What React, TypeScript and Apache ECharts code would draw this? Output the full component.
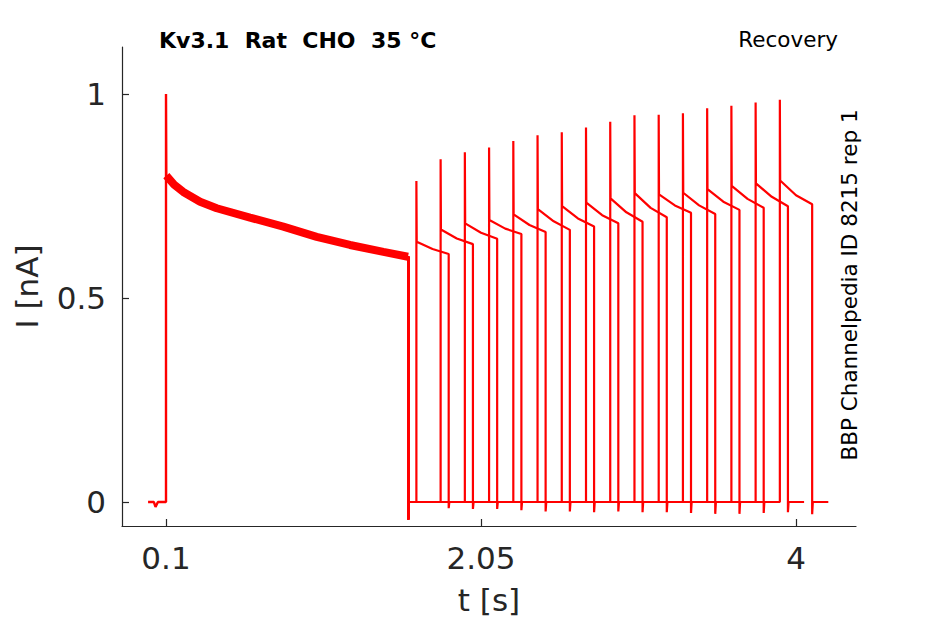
import React, { useEffect, useRef } from "react";
import * as echarts from "echarts";

// ---- data ----
const xTickValues = [0.1, 2.05, 4];
const xTickLabels = ["0.1", "2.05", "4"];
const yTickValues = [0, 0.5, 1];
const yTickLabels = ["0", "0.5", "1"];

// baseline before the prepulse and the onset spike
const preBaselineT = [-0.011, 0.025, 0.035, 0.05, 0.1, 0.1, 0.102];
const preBaselineI = [0, 0, -0.012, 0, 0, 1.0, 0.8];

// prepulse decay (dense band of overlaid sweeps)
const prepulseT = [0.102, 0.15, 0.207, 0.311, 0.414, 0.62, 0.826, 1.033, 1.239, 1.446, 1.598];
const prepulseI = [0.8, 0.778, 0.76, 0.736, 0.72, 0.697, 0.675, 0.65, 0.63, 0.613, 0.601];
const prepulseEnd = 1.6;
const prepulseUndershoot = -0.042;

// test pulses, one per sweep
const testOnsets = [1.65, 1.8, 1.95, 2.1, 2.25, 2.4, 2.55, 2.7, 2.85, 3.0, 3.15, 3.3, 3.45, 3.6, 3.75, 3.9];
const testPeaks = [0.787, 0.84, 0.857, 0.869, 0.885, 0.899, 0.906, 0.918, 0.932, 0.948, 0.949, 0.953, 0.965, 0.971, 0.979, 0.986];
const plateauStart = [0.638, 0.668, 0.683, 0.691, 0.705, 0.718, 0.725, 0.734, 0.744, 0.757, 0.754, 0.758, 0.767, 0.775, 0.781, 0.788];
const plateauMid = [0.62, 0.646, 0.66, 0.67, 0.679, 0.688, 0.695, 0.703, 0.71, 0.721, 0.727, 0.727, 0.736, 0.743, 0.748, 0.752];
const plateauEnd = [0.608, 0.632, 0.645, 0.657, 0.662, 0.667, 0.675, 0.683, 0.687, 0.698, 0.709, 0.706, 0.716, 0.721, 0.725, 0.73];
const endUndershoot = [-0.015, -0.017, -0.017, -0.02, -0.023, -0.023, -0.025, -0.023, -0.025, -0.025, -0.027, -0.029, -0.029, -0.027, -0.025, -0.03];
const testDuration = 0.2;
const tailDuration = 0.1;

const RED = "#ff0000";
const INK = "#262626";
const FONT = "DejaVu Sans";

function zip(t: number[], v: number[]) {
  return t.map((x, i) => [x, v[i]]);
}

export default function App() {
  const ref = useRef<HTMLDivElement>(null);

  useEffect(() => {
    if (!ref.current) return;
    const chart = echarts.init(ref.current, null, { renderer: "svg" });

    const sweepSeries = testOnsets.map((on, k) => {
      const off = on + testDuration;
      const data = [
        [prepulseEnd, prepulseI[prepulseI.length - 1]],
        [prepulseEnd, prepulseUndershoot],
        [prepulseEnd + 0.004, 0],
        [on, 0],
        [on, testPeaks[k]],
        [on + 0.002, plateauStart[k]],
        [on + testDuration / 2, plateauMid[k]],
        [off, plateauEnd[k]],
        [off, endUndershoot[k]],
        [off + 0.004, 0],
        [off + tailDuration, 0],
      ];
      return {
        type: "line",
        name: "sweep " + (k + 1),
        data,
        showSymbol: false,
        symbol: "none",
        silent: true,
        lineStyle: { color: RED, width: 2.2 },
        z: 3,
      };
    });

    chart.setOption({
      animation: false,
      grid: { left: 122, right: 89, top: 47, bottom: 98, containLabel: false },
      xAxis: {
        type: "value",
        min: -0.1724,
        max: 4.3714,
        name: "t [s]",
        nameLocation: "middle",
        nameGap: 58,
        nameTextStyle: { fontFamily: FONT, fontSize: 31, color: INK },
        axisLine: { show: true, onZero: false, lineStyle: { color: INK, width: 1.2 } },
        axisTick: { show: true, inside: true, length: 7, customValues: xTickValues, lineStyle: { color: INK, width: 1.2 } },
        axisLabel: {
          customValues: xTickValues,
          margin: 16,
          fontFamily: FONT,
          fontSize: 31,
          color: INK,
          formatter: (v: number) => {
            const i = xTickValues.findIndex((x) => Math.abs(x - v) < 1e-6);
            return i >= 0 ? xTickLabels[i] : "";
          },
        },
        splitLine: { show: false },
      },
      yAxis: {
        type: "value",
        min: -0.0588,
        max: 1.1152,
        name: "I [nA]",
        nameLocation: "middle",
        nameGap: 80,
        nameRotate: 90,
        nameTextStyle: { fontFamily: FONT, fontSize: 31, color: INK },
        axisLine: { show: true, onZero: false, lineStyle: { color: INK, width: 1.2 } },
        axisTick: { show: true, inside: true, length: 7, customValues: yTickValues, lineStyle: { color: INK, width: 1.2 } },
        axisLabel: {
          customValues: yTickValues,
          margin: 16,
          fontFamily: FONT,
          fontSize: 31,
          color: INK,
          formatter: (v: number) => {
            const i = yTickValues.findIndex((x) => Math.abs(x - v) < 1e-6);
            return i >= 0 ? yTickLabels[i] : "";
          },
        },
        splitLine: { show: false },
      },
      series: [
        {
          type: "line",
          name: "pre",
          data: zip(preBaselineT, preBaselineI),
          showSymbol: false,
          symbol: "none",
          silent: true,
          lineStyle: { color: RED, width: 2.4 },
          z: 3,
        },
        {
          type: "line",
          name: "prepulse",
          data: zip(prepulseT, prepulseI),
          showSymbol: false,
          symbol: "none",
          silent: true,
          lineStyle: { color: RED, width: 8, cap: "butt" },
          z: 3,
        },
        ...sweepSeries,
      ],
      graphic: [
        {
          type: "text",
          x: 159,
          y: 40,
          style: {
            text: "Kv3.1  Rat  CHO  35 °C",
            fontFamily: FONT,
            fontSize: 22,
            fontWeight: "bold",
            fill: "#000",
            textAlign: "left",
            textVerticalAlign: "middle",
          },
        },
        {
          type: "text",
          x: 838,
          y: 39,
          style: {
            text: "Recovery",
            fontFamily: FONT,
            fontSize: 21.5,
            fill: "#000",
            textAlign: "right",
            textVerticalAlign: "middle",
          },
        },
        {
          type: "text",
          x: 849,
          y: 285,
          rotation: Math.PI / 2,
          style: {
            text: "BBP Channelpedia ID 8215 rep 1",
            fontFamily: FONT,
            fontSize: 21.5,
            fill: "#000",
            textAlign: "center",
            textVerticalAlign: "middle",
          },
        },
      ],
    });

    return () => chart.dispose();
  }, []);

  return (
    <div
      ref={ref}
      style={{ position: "absolute", left: 0, top: 0, width: 945, height: 624, background: "#fff" }}
    />
  );
}
